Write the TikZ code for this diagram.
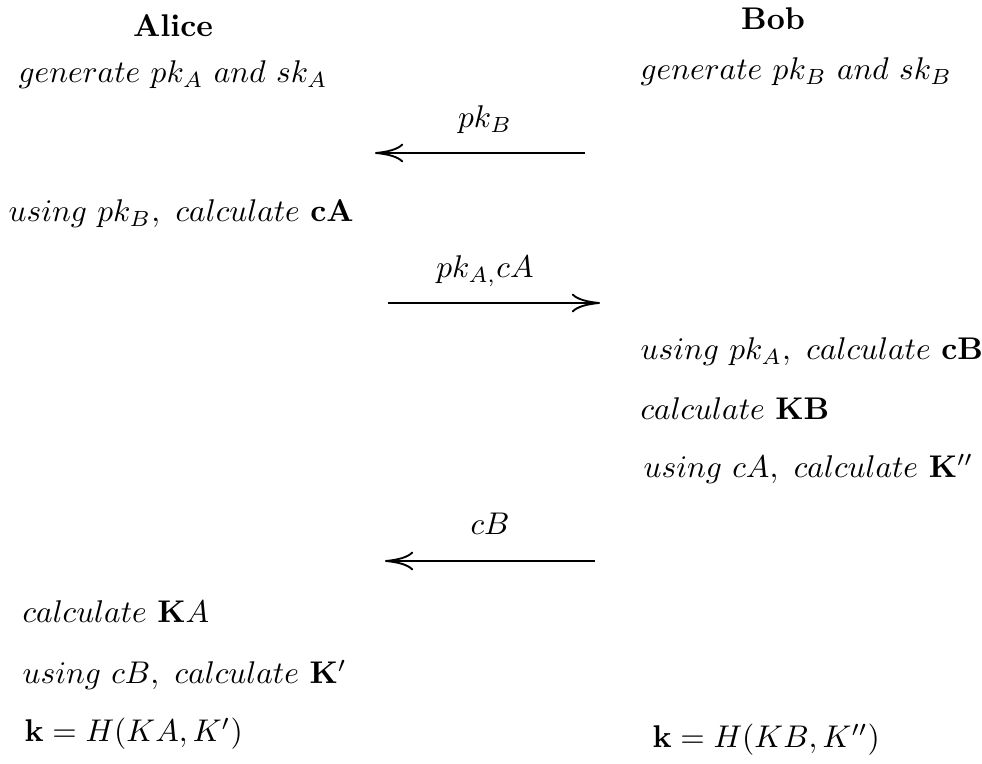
\documentclass[tikz,border=0pt]{standalone}
\usetikzlibrary{arrows.meta}
\begin{document}
\begin{tikzpicture}[x=0.3185pt,y=-0.3185pt,
  txt/.style={anchor=base west,inner sep=0pt},
  ctr/.style={anchor=base,inner sep=0pt},
  msg/.style={line width=0.6pt,-{To[length=9pt,width=6pt]}}]
\useasboundingbox (0,0) rectangle (982,764);
% headers
\node[ctr] (alice) at (173,37) {\textbf{Alice}};
\node[ctr] (bob) at (773,30) {\textbf{Bob}};
\node[txt] (ga) at (18,83) {$generate\ pk_A\ and\ sk_A$};
\node[txt] (gb) at (640,80) {$generate\ pk_B\ and\ sk_B$};
% message 1
\coordinate (m1s) at (585,153);
\coordinate (m1e) at (375,153);
\draw[msg] (m1s) -- (m1e);
\node[ctr] (l1) at (485,128) {$pk_B$};
\node[txt] (a1) at (8,222) {$using\ pk_B,\ calculate\ \mathbf{cA}$};
% message 2
\coordinate (m2s) at (388,303);
\coordinate (m2e) at (600,303);
\draw[msg] (m2s) -- (m2e);
\node[ctr] (l2) at (485,278) {$pk_{A,}cA$};
\node[txt] (b1) at (640,360) {$using\ pk_A,\ calculate\ \mathbf{cB}$};
\node[txt] (b2) at (640,420) {$calculate\ \mathbf{KB}$};
\node[txt] (b3) at (643,478) {$using\ cA,\ calculate\ \mathbf{K}''$};
% message 3
\coordinate (m3s) at (595,561);
\coordinate (m3e) at (385,561);
\draw[msg] (m3s) -- (m3e);
\node[ctr] (l3) at (490,535) {$cB$};
\node[txt] (a2) at (22,623) {$calculate\ \mathbf{K}A$};
\node[txt] (a3) at (22,684) {$using\ cB,\ calculate\ \mathbf{K}'$};
\node[txt] (a4) at (24,742) {$\mathbf{k}=H(KA,K')$};
\node[txt] (b4) at (652,748) {$\mathbf{k}=H(KB,K'')$};
\end{tikzpicture}
\end{document}
